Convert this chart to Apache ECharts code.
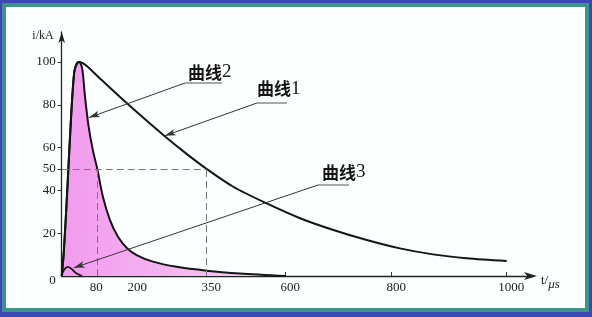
<!DOCTYPE html>
<html>
<head>
<meta charset="utf-8">
<script src="https://cdn.jsdelivr.net/npm/echarts@6/dist/echarts.min.js"></script>
<style>
  html, body { margin: 0; padding: 0; background: #3c47b6; }
  #outer { position: absolute; left: 0; top: 0; width: 592px; height: 317px; background: #3c47b6; }
  #teal { position: absolute; left: 2px; top: 3px; width: 587px; height: 309px; background: #3f9488; }
  #paper { position: absolute; left: 4px; top: 4px; width: 579px; height: 301px; background: #fbfffe; }
  #chart { position: absolute; left: 0; top: 0; width: 592px; height: 317px; }
</style>
</head>
<body>
<div id="outer"><div id="teal"><div id="paper"></div></div></div>
<div id="chart"></div>
<script>
// ---- tick labels of the (schematic, not to scale) time axis ----
const tickLabels = ['0', '80', '200', '350', '600', '800', '1000'];
const tickUs     = [0, 80, 200, 350, 600, 800, 1000];        // µs value of each tick
const tickScale  = [0, 35.6, 71, 145, 224, 330, 445];        // where the drawing puts each tick on its t axis
const yTicks     = [0, 20, 40, 50, 60, 80, 100];             // kA

// ---- curve 1 (long wave) ----
const curve1T = [0, 5, 13, 21, 28, 34, 39, 46, 57, 89, 157, 221, 265, 308, 350, 434, 540, 627, 690, 753, 814, 872, 930, 1000];
const curve1I = [0, 12, 42, 74, 95, 99.3, 100, 99.6, 98, 92.3, 83.6, 74, 65.3, 57.3, 50, 41.7, 33.9, 27, 21.5, 16.8, 12.9, 10.1, 8.3, 7];
// ---- curve 2 (short wave, shaded) ----
const curve2T = [0, 5, 13, 21, 28, 34, 39, 46, 52, 60, 70, 80, 99, 123, 150, 180, 208, 241, 289, 350, 455, 600];
const curve2I = [0, 12, 42, 74, 95, 99.3, 100, 97, 84.5, 70.5, 58.8, 50, 37, 26.1, 18.3, 13.1, 9.8, 6.7, 4.3, 2.5, 1.2, 0];
// ---- curve 3 (small bump) ----
const curve3T = [0, 5, 13.5, 21, 32, 46];
const curve3I = [0, 2.8, 4.3, 3.5, 1.4, 0];

// half-value guides
const halfValue = 50;
const halfTimes = [80, 350];

// annotation names and the curve points their arrows touch
const annNames   = ['曲线2', '曲线1', '曲线3'];
const annTargetT = [61, 265, 27];
const annTargetI = [74, 65.5, 3.8];

// map µs onto the drawing's (non-uniform) t axis, piecewise between ticks
function warp(t) {
  for (let k = 1; k < tickUs.length; k++) {
    if (t <= tickUs[k]) {
      const f = (t - tickUs[k - 1]) / (tickUs[k] - tickUs[k - 1]);
      return tickScale[k - 1] + f * (tickScale[k] - tickScale[k - 1]);
    }
  }
  return tickScale[tickScale.length - 1];
}
const pts = (T, I) => T.map((t, k) => [warp(t), I[k]]);

const serif = '"Liberation Serif", "DejaVu Serif", serif';
const cjk = '"Noto Sans CJK SC", sans-serif';
const ink = '#151515';

const chart = echarts.init(document.getElementById('chart'), null, { renderer: 'canvas' });

// annotation layout (text block, underline, leader start)
const annLayout = [
  { x: 188, y: 72.5, ux1: 185, ux2: 222, uy: 83 },
  { x: 257, y: 89, ux1: 257, ux2: 287, uy: 103 },
  { x: 322, y: 172.5, ux1: 318, ux2: 349, uy: 185 }
];

const graphics = [];
annNames.forEach((name, k) => {
  const L = annLayout[k];
  graphics.push({
    type: 'text', x: L.x, y: L.y, silent: true,
    style: {
      text: '{c|' + name.slice(0, 2) + '}{n|' + name.slice(2) + '}',
      verticalAlign: 'middle', align: 'left',
      rich: {
        c: { fontFamily: cjk, fontSize: 17, fontWeight: 'bold', fill: ink },
        n: { fontFamily: serif, fontSize: 19, fill: ink }
      }
    }
  });
  graphics.push({
    type: 'line', silent: true,
    shape: { x1: L.ux1, y1: L.uy, x2: L.ux2, y2: L.uy },
    style: { stroke: '#555', lineWidth: 1 }
  });
});

const leaders = annNames.map((n, k) => [
  { x: annLayout[k].ux1, y: annLayout[k].uy },
  { coord: [warp(annTargetT[k]), annTargetI[k]] }
]);

const guides = [
  [{ coord: [0, halfValue] }, { coord: [warp(halfTimes[1]), halfValue] }],
  [{ coord: [warp(halfTimes[0]), 0] }, { coord: [warp(halfTimes[0]), halfValue] }],
  [{ coord: [warp(halfTimes[1]), 0] }, { coord: [warp(halfTimes[1]), halfValue] }]
];

const xLabelOf = v => {
  let best = 0;
  tickScale.forEach((p, k) => { if (Math.abs(p - v) < Math.abs(tickScale[best] - v)) best = k; });
  return best;
};

chart.setOption({
  animation: false,
  backgroundColor: 'transparent',
  grid: { left: 61.7, top: 32, width: 471.3, height: 244 },
  xAxis: {
    type: 'value', min: 0, max: 471.3,
    name: 't/{i|μs}', nameLocation: 'end', nameGap: 8,
    nameTextStyle: {
      fontFamily: serif, fontSize: 13, color: '#222', align: 'left', verticalAlign: 'middle',
      padding: [9, 0, 0, 0],
      rich: { i: { fontFamily: serif, fontStyle: 'italic', fontSize: 13, color: '#222', padding: [9, 0, 0, 0] } }
    },
    axisLine: { show: true, symbol: ['none', 'arrow'], symbolSize: [6, 13], symbolOffset: [0, 4],
      lineStyle: { color: '#222', width: 1.3 } },
    axisTick: { show: true, inside: true, length: 4, lineStyle: { color: '#333', width: 1 },
      customValues: tickScale.slice(1) },
    axisLabel: {
      show: true, margin: 5, fontFamily: serif, fontSize: 13, color: '#222',
      customValues: tickScale.slice(1),
      formatter: v => {
        const k = xLabelOf(v);
        return k === 1 ? '{a|' + tickLabels[k] + '}' : '{b|' + tickLabels[k] + '}';
      },
      rich: {
        a: { fontFamily: serif, fontSize: 13, color: '#222', padding: [0, 2, 0, 0] },
        b: { fontFamily: serif, fontSize: 13, color: '#222', padding: [0, 0, 0, 9] }
      }
    },
    splitLine: { show: false }
  },
  yAxis: {
    type: 'value', min: 0, max: 114,
    name: 'i/kA', nameLocation: 'end', nameGap: -4,
    nameTextStyle: { fontFamily: serif, fontSize: 12, color: '#222', align: 'right', verticalAlign: 'middle',
      padding: [0, 8, 0, 0] },
    axisLine: { show: true, symbol: ['none', 'arrow'], symbolSize: [5, 11], lineStyle: { color: '#222', width: 1.3 } },
    axisTick: { show: true, inside: false, length: 4, lineStyle: { color: '#333', width: 1 },
      customValues: yTicks.slice(1) },
    axisLabel: {
      show: true, margin: 6, fontFamily: serif, fontSize: 13, color: '#222',
      customValues: yTicks,
      formatter: v => v === 0 ? '{z|0}' : String(v),
      rich: { z: { fontFamily: serif, fontSize: 13, color: '#222', padding: [9, 0, 0, 0] } }
    },
    splitLine: { show: false }
  },
  graphic: graphics,
  series: [
    {
      name: '曲线2', type: 'line', data: pts(curve2T, curve2I),
      showSymbol: false, symbol: 'none', smooth: 0.3,
      lineStyle: { color: ink, width: 2 },
      areaStyle: {
        color: new echarts.graphic.LinearGradient(0, 0, 1, 0, [
          { offset: 0, color: '#f29aee' }, { offset: 0.4, color: '#f4b0f0' }, { offset: 1, color: '#f8d4f6' }
        ]),
        opacity: 1
      },
      z: 2,
      markLine: {
        silent: true, symbol: ['none', 'none'], animation: false,
        label: { show: false },
        lineStyle: { color: '#777', type: [7, 4], width: 1 },
        emphasis: { disabled: true },
        data: guides
      }
    },
    {
      name: '曲线1', type: 'line', data: pts(curve1T, curve1I),
      showSymbol: false, symbol: 'none', smooth: 0.3,
      lineStyle: { color: ink, width: 2 }, z: 3
    },
    {
      name: '曲线3', type: 'line', data: pts(curve3T, curve3I),
      showSymbol: false, symbol: 'none', smooth: 0.4,
      lineStyle: { color: ink, width: 1.8 }, z: 4,
      markLine: {
        silent: true, symbol: ['none', 'arrow'], symbolSize: [5, 11], animation: false,
        label: { show: false },
        lineStyle: { color: '#333', type: 'solid', width: 1 },
        emphasis: { disabled: true },
        data: leaders
      }
    }
  ]
});
</script>
</body>
</html>
